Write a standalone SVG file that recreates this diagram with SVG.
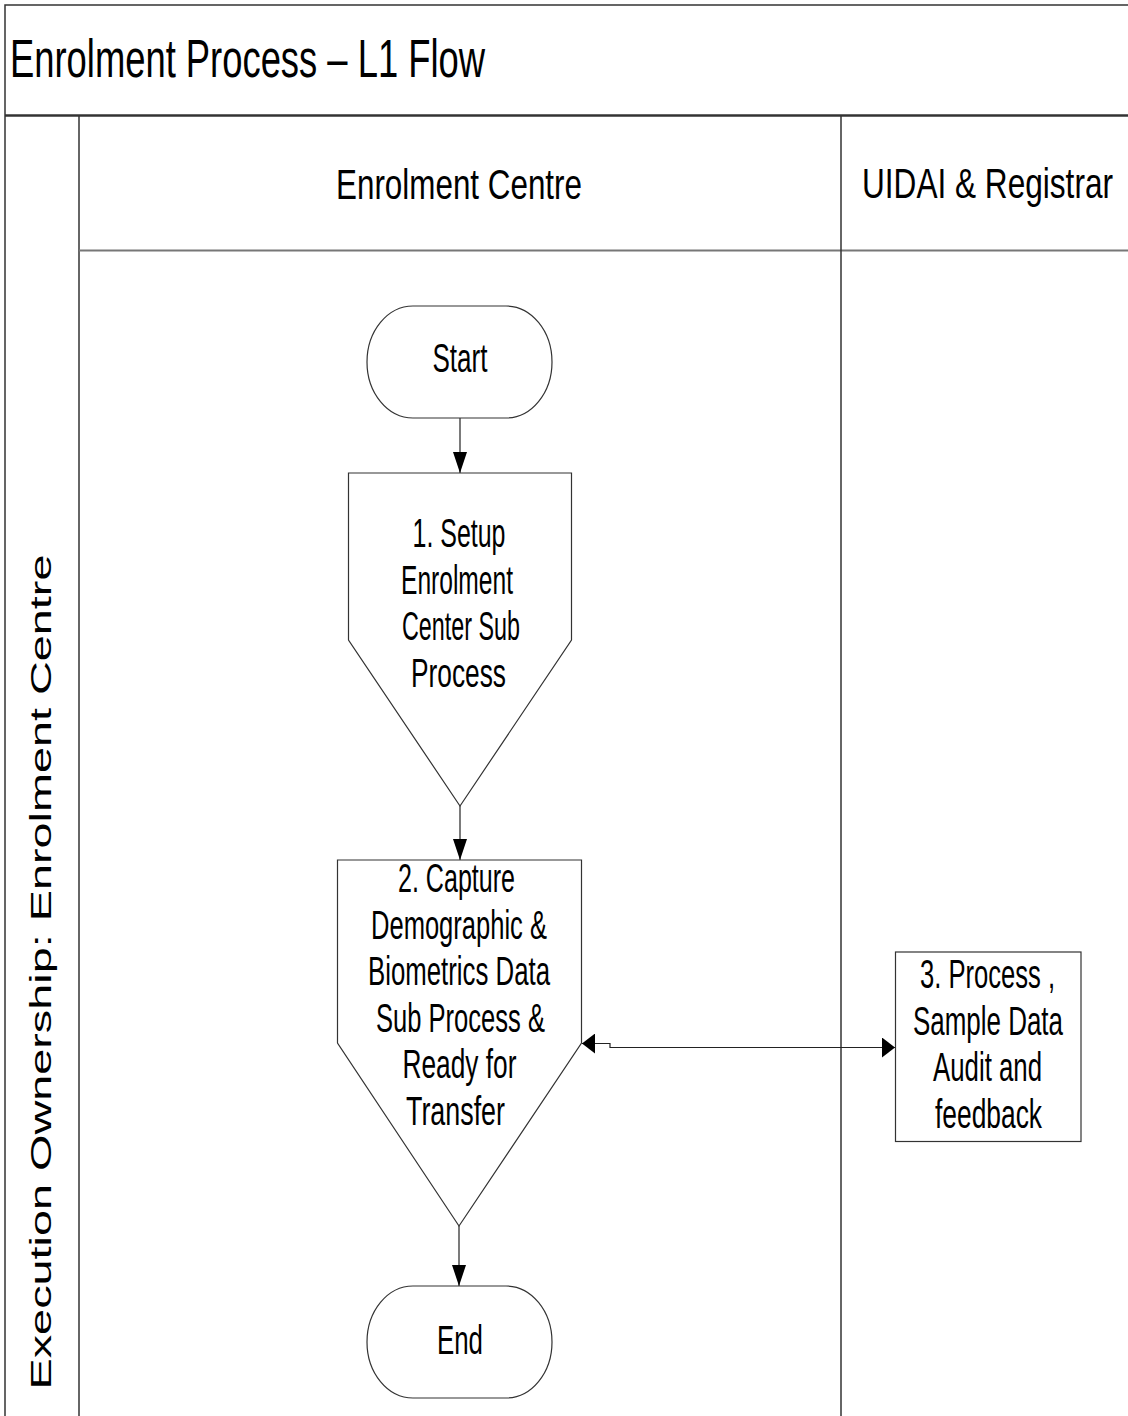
<svg xmlns="http://www.w3.org/2000/svg" width="1128" height="1416" viewBox="0 0 1128 1416">
  <style>
    .t { font-family: "Liberation Sans", Arial, sans-serif; fill: #000; }
    .nt { font-size: 40px; text-anchor: middle; }
    .hd { font-size: 42px; text-anchor: middle; }
    .shape { fill: #fff; stroke: #333; stroke-width: 1.2; }
    .frame { fill: none; stroke: #333; stroke-width: 1.5; }
    .conn { fill: none; stroke: #222; stroke-width: 1.2; }
  </style>
  <defs>
    <marker id="arrV" viewBox="0 0 21 14" refX="21" refY="7" markerWidth="21" markerHeight="14" markerUnits="userSpaceOnUse" orient="auto-start-reverse">
      <path d="M0,0 L21,7 L0,14 z" fill="#000"/>
    </marker>
    <marker id="arrH" viewBox="0 0 13 20" refX="13" refY="10" markerWidth="13" markerHeight="20" markerUnits="userSpaceOnUse" orient="auto-start-reverse">
      <path d="M0,0 L13,10 L0,20 z" fill="#000"/>
    </marker>
  </defs>
  <rect width="1128" height="1416" fill="#fff"/>

  <g id="pool">
    <rect x="5" y="5" width="1126" height="1420" class="frame"/>
    <line x1="5" y1="115.5" x2="1128" y2="115.5" stroke="#333" stroke-width="2.5"/>
    <line x1="79" y1="116" x2="79" y2="1416" stroke="#333" stroke-width="1.5"/>
    <line x1="79" y1="250.5" x2="1128" y2="250.5" stroke="#777" stroke-width="1.8"/>
    <line x1="841" y1="116" x2="841" y2="1416" stroke="#333" stroke-width="1.5"/>
    <text class="t" x="10" y="77" font-size="53" textLength="475" lengthAdjust="spacingAndGlyphs">Enrolment Process – L1 Flow</text>
    <text class="t hd" x="459" y="199" textLength="246" lengthAdjust="spacingAndGlyphs">Enrolment Centre</text>
    <text class="t hd" transform="translate(987.5 198) scale(0.752 1)" x="0" y="0" textLength="333.8" lengthAdjust="spacingAndGlyphs">UIDAI &amp; Registrar</text>
    <text class="t" transform="translate(51,972) rotate(-90)" x="0" y="0" font-size="30" text-anchor="middle" textLength="835" lengthAdjust="spacingAndGlyphs">Execution Ownership: Enrolment Centre</text>
  </g>

  <g id="connectors">
    <line x1="460" y1="418" x2="460" y2="473" class="conn" marker-end="url(#arrV)"/>
    <line x1="460" y1="806" x2="460" y2="860" class="conn" marker-end="url(#arrV)"/>
    <line x1="459" y1="1226" x2="459" y2="1286" class="conn" marker-end="url(#arrV)"/>
    <path d="M582,1043.5 H610 V1047.5 H895" class="conn" marker-start="url(#arrH)" marker-end="url(#arrH)"/>
  </g>

  <g id="start">
    <rect x="367" y="306" width="185" height="112" rx="46" ry="56" class="shape"/>
    <text class="t nt" x="460" y="372" textLength="55" lengthAdjust="spacingAndGlyphs">Start</text>
  </g>

  <g id="node1">
    <path d="M348.5,473 H571.5 V640 L460,806 L348.5,640 Z" class="shape"/>
    <text class="t nt" x="459" y="547" textLength="93" lengthAdjust="spacingAndGlyphs">1. Setup</text>
    <text class="t nt" x="457" y="593.5" textLength="112" lengthAdjust="spacingAndGlyphs">Enrolment</text>
    <text class="t nt" x="461" y="640" textLength="118" lengthAdjust="spacingAndGlyphs">Center Sub</text>
    <text class="t nt" x="458.5" y="686.5" textLength="95" lengthAdjust="spacingAndGlyphs">Process</text>
  </g>

  <g id="node2">
    <path d="M337.5,860 H581.5 V1043 L459,1226 L337.5,1043 Z" class="shape"/>
    <text class="t nt" x="456.5" y="892" textLength="117" lengthAdjust="spacingAndGlyphs">2. Capture</text>
    <text class="t nt" x="459" y="938.5" textLength="176" lengthAdjust="spacingAndGlyphs">Demographic &amp;</text>
    <text class="t nt" x="459" y="985" textLength="182" lengthAdjust="spacingAndGlyphs">Biometrics Data</text>
    <text class="t nt" x="460.5" y="1031.5" textLength="169" lengthAdjust="spacingAndGlyphs">Sub Process &amp;</text>
    <text class="t nt" x="459.5" y="1078" textLength="114" lengthAdjust="spacingAndGlyphs">Ready for</text>
    <text class="t nt" x="455.5" y="1124.5" textLength="99" lengthAdjust="spacingAndGlyphs">Transfer</text>
  </g>

  <g id="node3">
    <rect x="895.5" y="952" width="185.5" height="189.5" class="shape"/>
    <text class="t nt" transform="translate(987.5 988) scale(0.65 1)" x="0" y="0" textLength="207.7" lengthAdjust="spacingAndGlyphs">3. Process ,</text>
    <text class="t nt" transform="translate(988 1034.5) scale(0.65 1)" x="0" y="0" textLength="230.8" lengthAdjust="spacingAndGlyphs">Sample Data</text>
    <text class="t nt" transform="translate(987.5 1081) scale(0.65 1)" x="0" y="0" textLength="167.7" lengthAdjust="spacingAndGlyphs">Audit and</text>
    <text class="t nt" transform="translate(988.5 1127.5) scale(0.65 1)" x="0" y="0" textLength="164.6" lengthAdjust="spacingAndGlyphs">feedback</text>
  </g>

  <g id="end">
    <rect x="367" y="1286" width="185" height="112" rx="46" ry="56" class="shape"/>
    <text class="t nt" x="460" y="1354" textLength="46" lengthAdjust="spacingAndGlyphs">End</text>
  </g>
</svg>
